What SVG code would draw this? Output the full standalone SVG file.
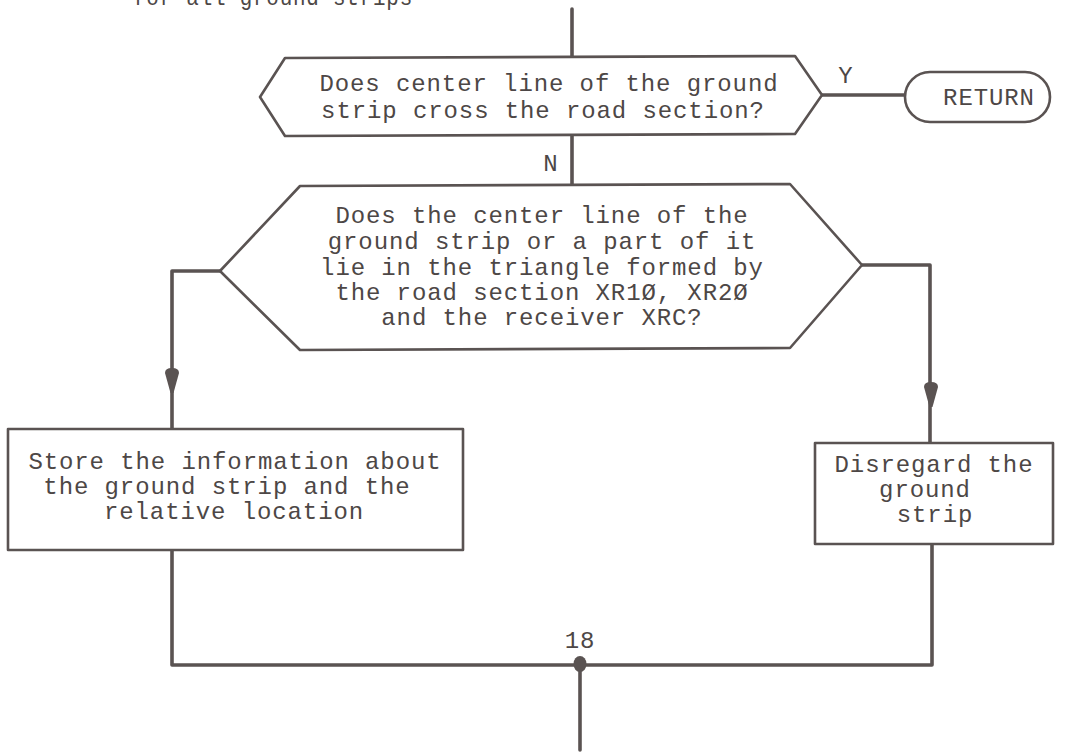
<svg xmlns="http://www.w3.org/2000/svg" xmlns:xlink="http://www.w3.org/1999/xlink" width="1076" height="753" viewBox="0 0 1076 753">
  <style>
    .shape { fill: #ffffff; stroke: #5a5352; stroke-width: 2.6; stroke-linejoin: round; }
    .wire { fill: none; stroke: #5a5352; stroke-width: 3.6; stroke-linejoin: round; stroke-linecap: round; }
    .label { font-family: "Liberation Mono", "Courier New", monospace; font-size: 24px; fill: #4d4746; letter-spacing: 0.9px; }
    .mid { text-anchor: middle; }
    .head { fill: #5a5352; }
  </style>
  <defs>
    <!-- downward arrowhead, tip at origin -->
    <path id="arrowDown" class="head" d="M-1.5,0 L-7,-20 Q-7,-25 0,-25 Q7,-25 7,-20 L1.5,0 Z"/>
  </defs>

  <rect x="0" y="0" width="1076" height="753" fill="#ffffff"/>

  <text class="label" x="133" y="5" textLength="280" lengthAdjust="spacingAndGlyphs">for all ground strips</text>

  <g id="connectors">
    <path class="wire" d="M572,9 V57"/>
    <path class="wire" d="M572,135 V185"/>
    <path class="wire" d="M822,95 H905"/>
    <path class="wire" d="M220,271 H172 V429"/>
    <path class="wire" d="M862,265 H930 V443"/>
    <use xlink:href="#arrowDown" x="172" y="393"/>
    <use xlink:href="#arrowDown" x="931" y="407"/>
    <path class="wire" d="M172,550 V665 H932 V544"/>
    <path class="wire" d="M580,664 V750"/>
    <ellipse class="head" cx="580" cy="664" rx="6.5" ry="8"/>
    <text class="label mid" x="551" y="171">N</text>
    <text class="label mid" x="846" y="83">Y</text>
    <text class="label mid" x="580" y="648">18</text>
  </g>

  <g id="cross-check">
    <polygon class="shape" points="260,97 285,58 795,56 822,95 795,134 285,136"/>
    <text class="label mid" x="549" y="91">Does center line of the ground</text>
    <text class="label mid" x="543" y="118">strip cross the road section?</text>
  </g>

  <g id="return">
    <rect class="shape" x="905" y="72" width="145" height="50" rx="25" ry="25"/>
    <text class="label mid" x="989" y="105">RETURN</text>
  </g>

  <g id="triangle-check">
    <polygon class="shape" points="220,271 300,186 790,184 862,265 790,348 300,350"/>
    <text class="label mid" x="542" y="223">Does the center line of the</text>
    <text class="label mid" x="542" y="249">ground strip or a part of it</text>
    <text class="label mid" x="542" y="275">lie in the triangle formed by</text>
    <text class="label mid" x="542" y="300">the road section XR1Ø, XR2Ø</text>
    <text class="label mid" x="542" y="325">and the receiver XRC?</text>
  </g>

  <g id="store">
    <rect class="shape" x="8" y="429" width="455" height="121"/>
    <text class="label mid" x="235" y="469">Store the information about</text>
    <text class="label mid" x="227" y="494">the ground strip and the</text>
    <text class="label mid" x="234" y="519">relative location</text>
  </g>

  <g id="disregard">
    <rect class="shape" x="815" y="443" width="238" height="101"/>
    <text class="label mid" x="934" y="472">Disregard the</text>
    <text class="label mid" x="925" y="497">ground</text>
    <text class="label mid" x="935" y="522">strip</text>
  </g>
</svg>
